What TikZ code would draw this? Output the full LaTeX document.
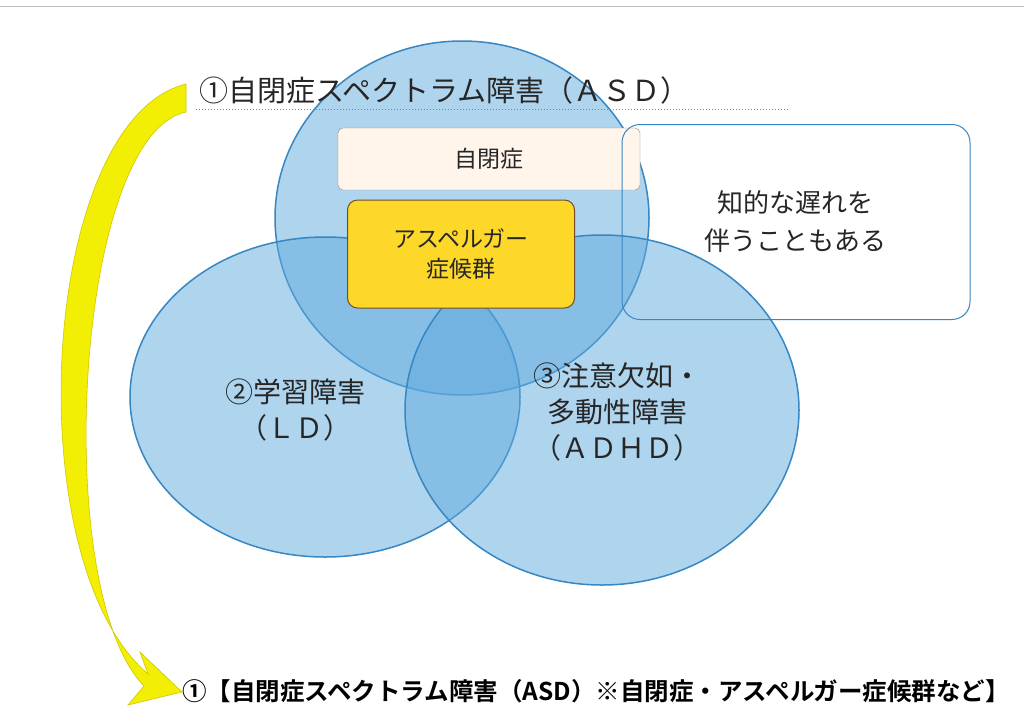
\documentclass[tikz,border=0pt]{standalone}
\usepackage{fontspec}
\setmainfont{Noto Sans CJK JP}
\newfontfamily\jpbold{Noto Sans CJK JP Bold}
\definecolor{cfill}{RGB}{95,170,222}
\definecolor{cline}{RGB}{55,135,195}
\begin{document}
\begin{tikzpicture}[x=1pt,y=-1pt,
  circ/.style={draw=cline,line width=1.5pt,fill=cfill,fill opacity=0.5},
  lbl/.style={font=\fontsize{28}{36}\selectfont,text=black!85,align=center},
  boxlbl/.style={font=\fontsize{23}{30}\selectfont,text=black!85,align=center}]
\useasboundingbox (0,0) rectangle (1024,724);
\fill[white] (0,0) rectangle (1024,724);
\draw[black!25] (0,6) -- (1024,6);
% circles
\path[circ] (462,218) ellipse [x radius=187,y radius=177];
\path[circ] (325,397) ellipse [x radius=195,y radius=160];
\path[circ] (602,410) ellipse [x radius=197,y radius=175];
% boxes
\node[draw=black!45,fill=orange!8,rounded corners=5pt,minimum width=302pt,minimum height=62pt,boxlbl] (aut) at (489,159) {自閉症};
\node[draw=brown!60!black,line width=1pt,fill=yellow!70!orange!85,rounded corners=10pt,minimum width=227pt,minimum height=108pt,boxlbl] (asp) at (461,254) {アスペルガー\\症候群};
\node[draw=cline,line width=1pt,rounded corners=18pt,minimum width=348pt,minimum height=195pt] (rbox) at (796,222) {};
\node[boxlbl,font=\fontsize{26}{38}\selectfont] (rtext) at (795,222) {知的な遅れを\\伴うこともある};
% title
\node[lbl,font=\fontsize{29}{34}\selectfont,anchor=west] (title) at (196,90) {①自閉症スペクトラム障害（ＡＳＤ）};
\draw[black!50,dotted,line width=1pt] (196,109) -- (790,109);
% labels
\node[lbl] (ld) at (295,410) {②学習障害\\（ＬＤ）};
\node[lbl] (adhd) at (617,412) {③注意欠如・\\多動性障害\\（ＡＤＨＤ）};
% yellow arrow
\fill[yellow!95!green,draw=yellow!60!olive,line width=0.6pt] (186,84) .. controls (40,120) and (15,560) .. (148,674)
 -- (140,652) -- (182,692) -- (128,705) -- (144,686)
 .. controls (50,590) and (75,135) .. (186,112) -- cycle;
% bottom
\node[font=\jpbold\fontsize{24.5}{28}\selectfont,anchor=west,inner sep=0pt] (bottom) at (182,691) {①【自閉症スペクトラム障害（ASD）※自閉症・アスペルガー症候群など】};
\end{tikzpicture}
\end{document}
